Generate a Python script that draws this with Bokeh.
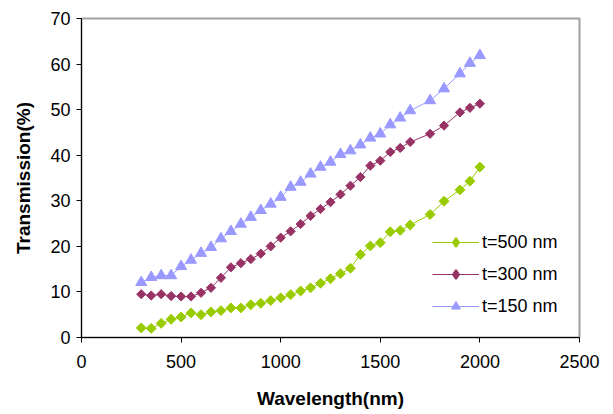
import math
from bokeh.plotting import figure
from bokeh.models import Range1d, FixedTicker, Legend, LegendItem
from bokeh.embed import file_html
from bokeh.resources import INLINE

wavelength = [300, 350, 400, 450, 500, 550, 600, 650, 700, 750, 800, 850, 900, 950,
              1000, 1050, 1100, 1150, 1200, 1250, 1300, 1350, 1400, 1450, 1500, 1550,
              1600, 1650, 1750, 1820, 1900, 1950, 2000]

t500 = [2.1, 2.0, 3.1, 4.0, 4.5, 5.4, 5.0, 5.6, 5.9, 6.5, 6.5, 7.2, 7.5, 8.1,
        8.7, 9.4, 10.2, 10.9, 11.9, 12.9, 14.0, 15.2, 18.2, 20.1, 20.8, 23.2,
        23.5, 24.7, 27.0, 29.9, 32.4, 34.3, 37.4]

t300 = [9.5, 9.2, 9.5, 9.1, 9.0, 9.0, 9.8, 10.9, 13.1, 15.4, 16.3, 17.2, 18.4, 20.0,
        21.9, 23.3, 24.9, 26.7, 28.2, 29.7, 31.4, 33.3, 35.2, 37.7, 38.8, 40.7,
        41.6, 42.9, 44.7, 46.5, 49.4, 50.4, 51.3]

t150 = [12.1, 13.2, 13.6, 13.6, 15.6, 17.0, 18.5, 19.8, 21.7, 23.3, 24.9, 26.4, 27.9, 29.3,
        30.8, 33.0, 34.1, 35.9, 37.4, 38.5, 40.2, 41.0, 42.3, 43.8, 44.7, 46.7,
        48.2, 49.8, 52.0, 54.6, 57.9, 60.2, 61.9]

series_labels = ["t=500 nm", "t=300 nm", "t=150 nm"]
x_ticks = [0, 500, 1000, 1500, 2000, 2500]
y_ticks = [0, 10, 20, 30, 40, 50, 60, 70]

FONT = "Liberation Sans"

p = figure(width=613, height=414, output_backend="svg", toolbar_location=None,
           x_range=Range1d(0, 2500), y_range=Range1d(0, 70),
           min_border_left=81, min_border_right=34, min_border_top=18, min_border_bottom=77)

p.background_fill_color = "white"
p.border_fill_color = "white"
p.outline_line_color = "#a0a0a0"
p.outline_line_width = 2
p.xgrid.visible = False
p.ygrid.visible = False

green = "#99cc00"
maroon = "#993366"
blue = "#9999ff"

l500 = p.line(wavelength, t500, line_color=green, line_width=1)
p.scatter(wavelength, t500, marker="square", angle=math.pi / 4, size=7,
          fill_color=green, line_color=green)
# legend-only marker (hidden in the plot area)
k500 = p.scatter(wavelength, t500, marker="diamond", fill_color=green,
                 line_color=green, line_width=2, visible=False)

l300 = p.line(wavelength, t300, line_color=maroon, line_width=1)
p.scatter(wavelength, t300, marker="square", angle=math.pi / 4, size=6.5,
          fill_color=maroon, line_color=maroon)
k300 = p.scatter(wavelength, t300, marker="diamond", fill_color=maroon,
                 line_color=maroon, line_width=2, visible=False)

l150 = p.line(wavelength, t150, line_color=blue, line_width=1)
s150 = p.scatter(wavelength, t150, marker="triangle", size=11,
                 fill_color=blue, line_color=blue)

for ax in (p.xaxis[0], p.yaxis[0]):
    ax.axis_line_color = "black"
    ax.axis_line_width = 1
    ax.major_tick_line_color = "black"
    ax.major_tick_in = 0
    ax.major_tick_out = 5
    ax.minor_tick_line_color = None
    ax.major_label_text_font = FONT
    ax.major_label_text_font_size = "18px"
    ax.major_label_text_color = "black"
    ax.axis_label_text_font = FONT
    ax.axis_label_text_font_size = "19px"
    ax.axis_label_text_font_style = "bold"
    ax.axis_label_text_color = "black"

p.xaxis.ticker = FixedTicker(ticks=x_ticks)
p.yaxis.ticker = FixedTicker(ticks=y_ticks)
p.xaxis.axis_label = "Wavelength(nm)"
p.yaxis.axis_label = "Transmission(%)"
p.xaxis.major_label_standoff = 12
p.yaxis.major_label_standoff = 6
p.xaxis.axis_label_standoff = 17
p.yaxis.axis_label_standoff = 13

lg = Legend(items=[
    LegendItem(label=series_labels[0], renderers=[l500, k500]),
    LegendItem(label=series_labels[1], renderers=[l300, k300]),
    LegendItem(label=series_labels[2], renderers=[l150, s150]),
])
lg.location = (351, 20)
lg.border_line_color = None
lg.background_fill_alpha = 0
lg.inactive_fill_alpha = 0
lg.padding = 0
lg.margin = 0
lg.spacing = 10
lg.glyph_width = 47
lg.glyph_height = 22
lg.label_height = 22
lg.label_standoff = 3
lg.label_text_font = FONT
lg.label_text_font_size = "18px"
lg.label_text_color = "black"
p.add_layout(lg)

open("out.html", "w").write(file_html(p, INLINE))
